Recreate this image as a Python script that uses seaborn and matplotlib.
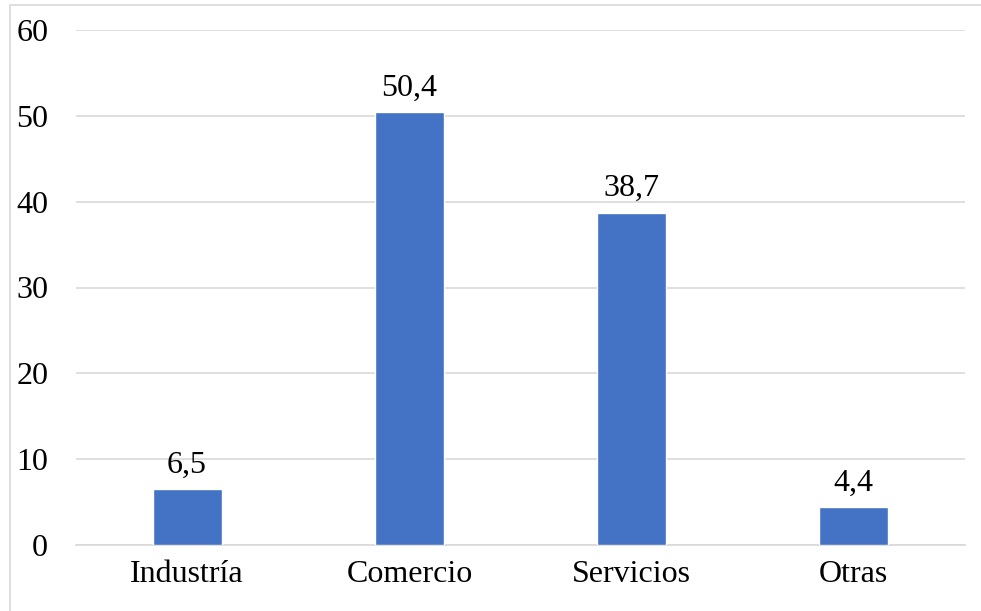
import matplotlib
matplotlib.use("Agg")
import matplotlib.pyplot as plt
import seaborn as sns
import pandas as pd
from matplotlib.patches import Rectangle

sectores = ["Industría", "Comercio", "Servicios", "Otras"]
porcentajes = [6.5, 50.4, 38.7, 4.4]
etiquetas = ["6,5", "50,4", "38,7", "4,4"]
ticks_y = [0, 10, 20, 30, 40, 50, 60]

sns.set_theme(style="white")
plt.rcParams["font.family"] = ["Liberation Serif", "DejaVu Serif"]

df = pd.DataFrame({"sector": sectores, "valor": porcentajes})

fig = plt.figure(figsize=(9.81, 6.11), dpi=100)
ax = fig.add_axes([76 / 981, 66 / 611, 889 / 981, 515 / 611])

sns.barplot(data=df, x="sector", y="valor", color="#4472C4", width=0.31,
            saturation=1, ax=ax, zorder=3)

ax.set_ylim(0, 60)
ax.set_yticks(ticks_y)
ax.yaxis.grid(True, color="#d9d9d9", linewidth=1.2, zorder=0)
ax.set_axisbelow(True)
for s in ["top", "right", "left"]:
    ax.spines[s].set_visible(False)
ax.spines["bottom"].set_color("#d9d9d9")
ax.spines["bottom"].set_linewidth(1.2)
ax.tick_params(axis="y", length=0, pad=20, labelsize=23, labelcolor="black")
ax.tick_params(axis="x", length=0, pad=11, labelsize=23, labelcolor="black")
ax.set_xlabel("")
ax.set_ylabel("")

for p, txt in zip(ax.patches, etiquetas):
    ax.annotate(txt, (p.get_x() + p.get_width() / 2, p.get_height()),
                xytext=(0, 7), textcoords="offset points",
                ha="center", va="bottom", fontsize=23, color="black")

# borde del gráfico
fig.patches.append(Rectangle((10 / 981, -0.05), 1.1, (611 - 5) / 611 + 0.05,
                             transform=fig.transFigure, fill=False,
                             edgecolor="#d9d9d9", linewidth=1.2))

fig.savefig("out.png", dpi=100)
